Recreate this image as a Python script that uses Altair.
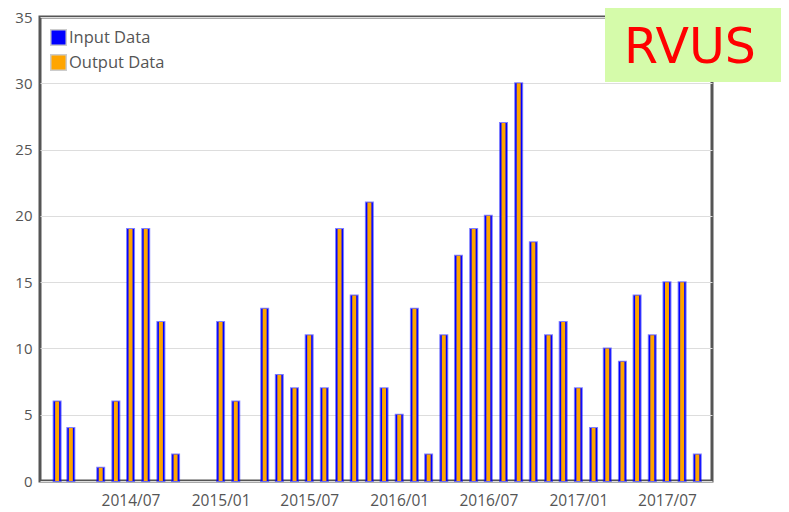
import altair as alt
import pandas as pd

months = [
    "2014-02", "2014-03", "2014-04", "2014-05", "2014-06", "2014-07", "2014-08", "2014-09",
    "2014-10", "2014-11", "2014-12", "2015-01", "2015-02", "2015-03", "2015-04", "2015-05",
    "2015-06", "2015-07", "2015-08", "2015-09", "2015-10", "2015-11", "2015-12", "2016-01",
    "2016-02", "2016-03", "2016-04", "2016-05", "2016-06", "2016-07", "2016-08", "2016-09",
    "2016-10", "2016-11", "2016-12", "2017-01", "2017-02", "2017-03", "2017-04", "2017-05",
    "2017-06", "2017-07", "2017-08", "2017-09",
]
input_vals = [
    6, 4, 0, 1, 6, 19, 19, 12,
    2, 0, 0, 12, 6, 0, 13, 8,
    7, 11, 7, 19, 14, 21, 7, 5,
    13, 2, 11, 17, 19, 20, 27, 30,
    18, 11, 12, 7, 4, 10, 9, 14,
    11, 15, 15, 2,
]
output_vals = list(input_vals)
series_names = ["Input Data", "Output Data"]
series_colors = ["#0000ff", "#ffa500"]
tick_months = [(2014, 7), (2015, 1), (2015, 7), (2016, 1), (2016, 7), (2017, 1), (2017, 7)]
y_ticks = [0, 5, 10, 15, 20, 25, 30, 35]

rows = []
for m, v in zip(months, input_vals):
    rows.append({"month": pd.Timestamp(m + "-01"), "value": v, "series": series_names[0]})
for m, v in zip(months, output_vals):
    rows.append({"month": pd.Timestamp(m + "-01"), "value": v, "series": series_names[1]})
df = pd.DataFrame(rows)

FONT = "Open Sans"
GRAY = "#555555"

x_enc = alt.X(
    "month:T",
    scale=alt.Scale(domain=[alt.DateTime(year=2013, month=12, date=28),
                            alt.DateTime(year=2017, month=10, date=1)], padding=0),
    axis=alt.Axis(
        values=[alt.DateTime(year=y, month=mo, date=1) for y, mo in tick_months],
        format="%Y/%m", title=None, grid=False, ticks=False, domain=False,
        labelFont=FONT, labelFontSize=15.5, labelColor=GRAY, labelPadding=12,
    ),
)
y_enc = alt.Y(
    "value:Q",
    scale=alt.Scale(domain=[0, 35], nice=False),
    axis=alt.Axis(
        values=y_ticks, title=None, ticks=False, domain=False, grid=True,
        gridColor="#dddddd", gridWidth=1,
        labelFont=FONT, labelFontSize=15, labelColor=GRAY, labelPadding=8,
    ),
)
color_enc = alt.Color(
    "series:N",
    scale=alt.Scale(domain=series_names, range=series_colors),
    legend=alt.Legend(
        title=None, orient="none", legendX=10, legendY=12,
        symbolType="square", symbolSize=240, symbolStrokeColor="#cccccc",
        symbolStrokeWidth=1.5, labelFont=FONT, labelFontSize=16.5, labelColor=GRAY,
        labelOffset=2, rowPadding=2,
    ),
)

base = alt.Chart(df).transform_filter(alt.datum.value > 0)
blue = base.transform_filter(alt.datum.series == series_names[0]).mark_bar(
    size=7, stroke="#0000ff", strokeWidth=2, strokeOpacity=0.5
).encode(x=x_enc, y=y_enc, color=color_enc)
orange = base.transform_filter(alt.datum.series == series_names[1]).mark_bar(
    size=4
).encode(x=x_enc, y=y_enc, color=color_enc)

box = alt.Chart(pd.DataFrame({"label": ["RVUS"]})).mark_rect(
    color="#d5fbaa", clip=False
).encode(x=alt.value(565), x2=alt.value(750), y=alt.value(-12), y2=alt.value(65))
box_text = alt.Chart(pd.DataFrame({"label": ["RVUS"]})).mark_text(
    color="#ff0000", font="DejaVu Sans", fontSize=49, align="center", baseline="alphabetic"
).encode(x=alt.value(650), y=alt.value(46), text="label:N")

chart = alt.layer(blue, orange, box, box_text).properties(
    width=672, height=464,
    autosize=alt.AutoSizeParams(type="none"),
    padding={"left": 32, "top": 9, "right": 69, "bottom": 30},
).configure_view(
    stroke="#555555", strokeWidth=3
)

chart.save("out.html", embed_options={"renderer": "svg", "actions": False})
